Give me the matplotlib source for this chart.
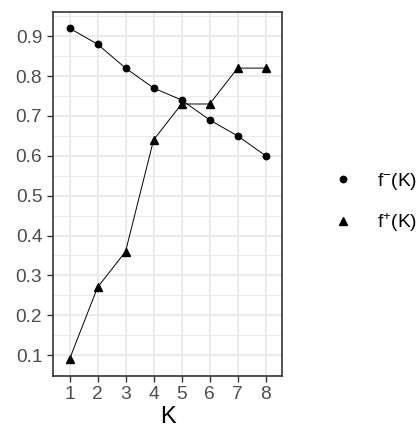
import numpy as np
import matplotlib
matplotlib.use("Agg")
import matplotlib.pyplot as plt
from matplotlib.lines import Line2D

plt.rcParams['font.family'] = ['Liberation Sans', 'DejaVu Sans']
plt.rcParams['mathtext.fontset'] = 'custom'
plt.rcParams['mathtext.rm'] = 'Liberation Sans'
plt.rcParams['mathtext.it'] = 'Liberation Sans:italic'

# datos
K = [1, 2, 3, 4, 5, 6, 7, 8]
f_minus = [0.92, 0.88, 0.82, 0.77, 0.74, 0.69, 0.65, 0.60]
f_plus = [0.09, 0.27, 0.36, 0.64, 0.73, 0.73, 0.82, 0.82]
y_ticks = [0.1, 0.2, 0.3, 0.4, 0.5, 0.6, 0.7, 0.8, 0.9]
y_minor = [0.05, 0.15, 0.25, 0.35, 0.45, 0.55, 0.65, 0.75, 0.85, 0.95]
labels = ["f$^{-}$(K)", "f$^{+}$(K)"]

fig = plt.figure(figsize=(4.19, 4.30), dpi=100)
ax = fig.add_axes([0.1258, 0.1263, 0.5484, 0.8465])

ax.plot(K, f_minus, color="black", lw=0.7, marker="o", ms=4.6, zorder=3)
ax.plot(K, f_plus, color="black", lw=0.7, marker="^", ms=5.4, zorder=3)

ax.set_xlim(0.4, 8.6)
ax.set_ylim(0.0485, 0.9615)
ax.set_xticks(K)
ax.set_yticks(y_ticks)
ax.set_yticks(y_minor, minor=True)
ax.set_yticklabels([f"{v:.1f}" for v in y_ticks])

ax.grid(True, which="major", color="#EBEBEB", lw=1.4)
ax.grid(True, which="minor", axis="y", color="#EBEBEB", lw=0.7)
ax.set_axisbelow(True)
ax.tick_params(which="major", length=4.5, width=1.0, color="#333333",
               labelcolor="#4D4D4D", labelsize=13.8, pad=3)
ax.tick_params(which="minor", length=0)
for s in ax.spines.values():
    s.set_color("#333333")
    s.set_linewidth(1.2)

ax.set_xlabel("K", fontsize=17, color="black", labelpad=2)

handles = [Line2D([], [], color="black", marker="o", ls="none", ms=4.6),
           Line2D([], [], color="black", marker="^", ls="none", ms=5.4)]
fig.legend(handles, labels, loc="center left", bbox_to_anchor=(0.796, 0.53),
           frameon=False, fontsize=13.8, handlelength=1.0, handletextpad=1.25,
           labelspacing=1.0, borderpad=0, borderaxespad=0)

fig.savefig("out.png", dpi=100, facecolor="white")
